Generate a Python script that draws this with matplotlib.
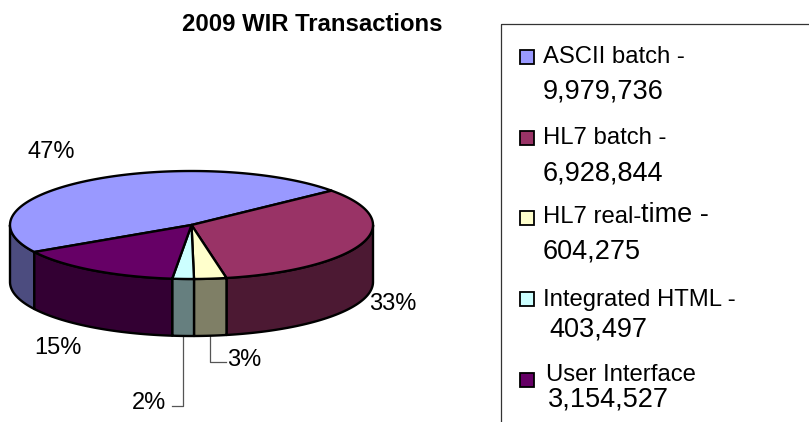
import numpy as np
import matplotlib
matplotlib.use("Agg")
import matplotlib.pyplot as plt
from matplotlib.patches import Polygon, Rectangle

plt.rcParams['font.family'] = ['Liberation Sans', 'DejaVu Sans']

# ---- data ----
categories = ["ASCII batch", "HL7 batch", "HL7 real-time", "Integrated HTML", "User Interface"]
values = [9979736, 6928844, 604275, 403497, 3154527]
value_labels = ["9,979,736", "6,928,844", "604,275", "403,497", "3,154,527"]
pct_labels = ["47%", "33%", "3%", "2%", "15%"]
top_colors = ["#9999FF", "#993366", "#FFFFCC", "#CCFFFF", "#660066"]
side_colors = ["#4C4C7F", "#4C1933", "#7F7F66", "#667F7F", "#330033"]
title = "2009 WIR Transactions"

# ---- layout ----
W, H = 809, 422
fig = plt.figure(figsize=(W / 100, H / 100), dpi=100)
ax = fig.add_axes([0, 0, 1, 1])
ax.set_xlim(0, W)
ax.set_ylim(H, 0)
ax.axis('off')

cx, cy, rx, ry, depth = 191.5, 225.0, 181.5, 54.0, 57.0
start_angle = 210.0
lw = 1.7

fracs = np.array(values, dtype=float) / np.sum(values)
spans = fracs * 360.0
ends = start_angle - np.cumsum(spans)
starts = ends + spans


def pt(theta_deg, dz=0.0):
    t = np.radians(theta_deg)
    return cx + rx * np.cos(t), cy - ry * np.sin(t) + dz


# walls (front half: angles in [-180, 0])
for a0, a1, sc in zip(starts, ends, side_colors):
    for shift in (0.0, -360.0, 360.0):
        hi = min(a0 + shift, 0.0)
        lo = max(a1 + shift, -180.0)
        if hi > lo:
            th = np.linspace(hi, lo, 80)
            top = [pt(t) for t in th]
            bot = [pt(t, depth) for t in th[::-1]]
            ax.add_patch(Polygon(top + bot, closed=True, facecolor=sc,
                                 edgecolor='black', lw=lw, joinstyle='round', zorder=2))

# top faces
for a0, a1, tc in zip(starts, ends, top_colors):
    th = np.linspace(a0, a1, 200)
    verts = [(cx, cy)] + [pt(t) for t in th]
    ax.add_patch(Polygon(verts, closed=True, facecolor=tc, edgecolor='black',
                         lw=lw, joinstyle='round', zorder=3))

# percentage labels
fs_pct = 17
ax.text(51, 152, pct_labels[0], fontsize=fs_pct, ha='center', va='center')
ax.text(393, 304, pct_labels[1], fontsize=fs_pct, ha='center', va='center')
ax.text(58, 348, pct_labels[4], fontsize=fs_pct, ha='center', va='center')

# leader-line labels for the two small slices
mid_y = (starts[2] + ends[2]) / 2
xy = pt(mid_y, depth)
ax.plot([xy[0], xy[0], xy[0] + 16], [xy[1], 362, 362], color='#555555', lw=0.9, zorder=1)
ax.text(xy[0] + 17, 360, pct_labels[2], fontsize=fs_pct, ha='left', va='center')

mid_c = (starts[3] + ends[3]) / 2
xy = pt(mid_c, depth)
ax.plot([xy[0], xy[0], xy[0] - 11], [xy[1], 406, 406], color='#555555', lw=0.9, zorder=1)
ax.text(xy[0] - 17, 403, pct_labels[3], fontsize=fs_pct, ha='right', va='center')

# title
ax.text(312.5, 24.5, title, fontsize=17.2, fontweight='bold', ha='center', va='center')

# legend frame (clipped by figure edge)
ax.add_patch(Rectangle((501, 24), 400, 500, fill=False, edgecolor='#333333', lw=0.9, zorder=1))

fs_name = 17.2
fs_num = 19.5
marker_y = [57, 138, 218, 299, 380]
name_y = [57, 138, 217, 300, 375]
num_y = [91, 173, 252, 330, 400]
num_x = [543, 543, 543, 549, 548]
name_x = [543, 543, 543, 543, 546]
sq = 13.5
for i, cat in enumerate(categories):
    ax.add_patch(Rectangle((527 - sq / 2, marker_y[i] - sq / 2), sq, sq,
                           facecolor=top_colors[i], edgecolor='black', lw=1.3, zorder=3))
    if cat == "HL7 real-time":
        t1 = ax.text(name_x[i], name_y[i], "HL7 real-", fontsize=fs_name, ha='left', va='center')
        ax.annotate("time -", xy=(1, 0), xycoords=t1, fontsize=fs_num,
                    ha='left', va='bottom')
    elif i < 4:
        ax.text(name_x[i], name_y[i], cat + " -", fontsize=fs_name, ha='left', va='center')
    else:
        ax.text(name_x[i], name_y[i], cat, fontsize=fs_name, ha='left', va='center')
    ax.text(num_x[i], num_y[i], value_labels[i], fontsize=fs_num, ha='left', va='center')

fig.savefig("out.png", dpi=100)
